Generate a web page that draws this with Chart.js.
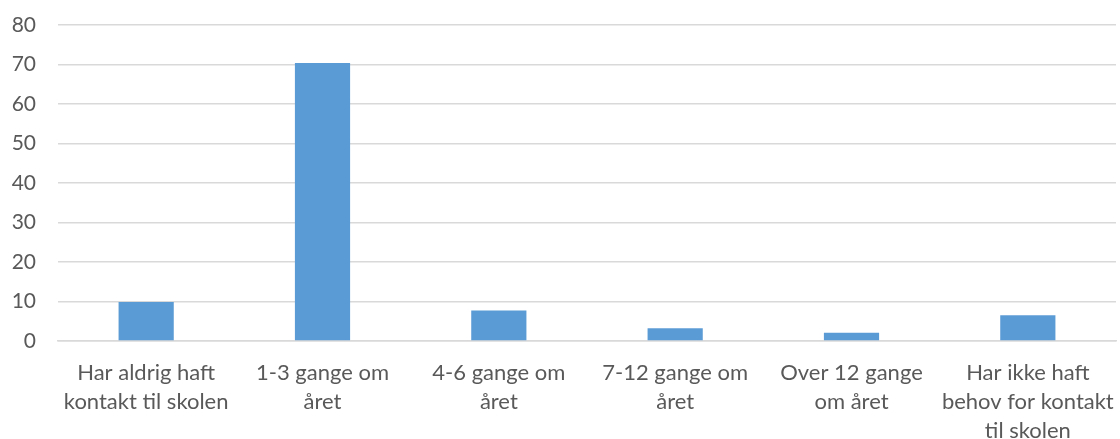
<!DOCTYPE html>
<html>
<head>
<meta charset="utf-8">
<script src="https://cdn.jsdelivr.net/npm/chart.js@4"></script>
<style>
html,body{margin:0;padding:0;background:#fff;}
#wrap{width:1120px;height:439px;position:relative;}
</style>
</head>
<body>
<div id="wrap"><canvas id="c" width="1120" height="439"></canvas></div>
<script>
const categories = [
  ["Har aldrig haft", "kontakt til skolen"],
  ["1-3 gange om", "året"],
  ["4-6 gange om", "året"],
  ["7-12 gange om", "året"],
  ["Over 12 gange", "om året"],
  ["Har ikke haft", "behov for kontakt", "til skolen"]
];
const values = [9.9, 70.4, 7.7, 3.2, 2.1, 6.5];
const yMin = 0, yMax = 80, yStep = 10;

const FONT = "Lato, 'Open Sans', sans-serif";
new Chart(document.getElementById('c'), {
  type: 'bar',
  data: {
    labels: categories,
    datasets: [{
      data: values,
      backgroundColor: '#5b9bd5',
      borderWidth: 0,
      categoryPercentage: 1,
      barPercentage: 0.313
    }]
  },
  options: {
    responsive: false,
    animation: false,
    layout: { padding: { top: 25, right: 4, left: 0, bottom: 0 } },
    plugins: { legend: { display: false }, tooltip: { enabled: false } },
    scales: {
      x: {
        grid: { display: false, drawTicks: false },
        border: { display: true, color: '#d9d9d9', width: 1.5 },
        ticks: {
          color: '#595959',
          font: { family: FONT, size: 22, lineHeight: 1.32 },
          padding: 17,
          maxRotation: 0,
          autoSkip: false
        },
        afterFit: (s) => { s.height = 98; s.paddingLeft = 0; s.paddingRight = 0; }
      },
      y: {
        min: yMin, max: yMax,
        grid: { color: '#d9d9d9', lineWidth: 1.5, drawTicks: false },
        border: { display: false },
        ticks: {
          stepSize: yStep,
          color: '#595959',
          font: { family: FONT, size: 21 },
          padding: 22
        },
        afterFit: (s) => { s.width = 58; s.paddingTop = 0; s.paddingBottom = 0; }
      }
    }
  }
});
</script>
</body>
</html>
